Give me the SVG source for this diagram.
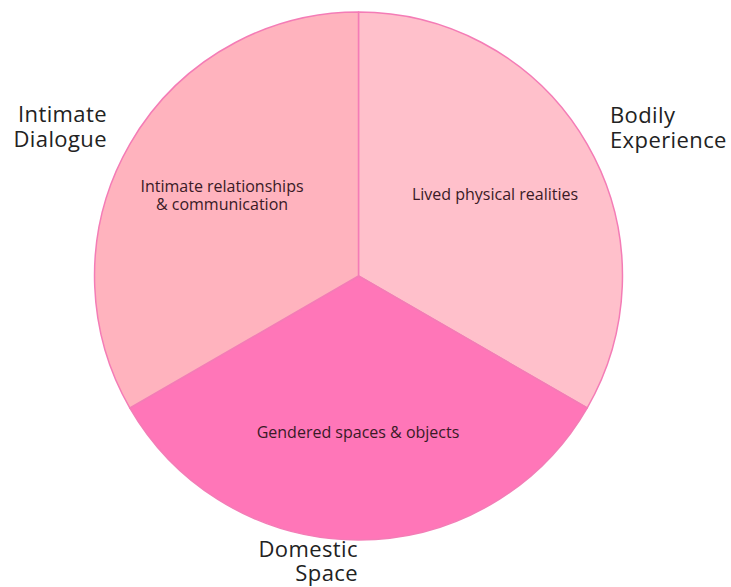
<svg xmlns="http://www.w3.org/2000/svg" width="731" height="587" viewBox="0 0 731 587">
<style>
.slice{stroke:#F47CB6;stroke-width:1.5;stroke-linejoin:round}
.outer{font-family:"Open Sans","Liberation Sans",sans-serif;font-size:22px;letter-spacing:0.4px;fill:#222}
.inner{font-family:"Open Sans","Liberation Sans",sans-serif;font-size:16px;fill:#3a1a26;text-anchor:middle}
</style>
<rect width="731" height="587" fill="#ffffff"/>
<g id="bodily-experience">
<path class="slice" d="M358.5,276 L358.5,12 A264,264 0 0 1 587.1,408 Z" fill="#FFC0CB"/>
<text class="inner" x="495" y="200">Lived physical realities</text>
<text class="outer" x="610" y="123">Bodily</text>
<text class="outer" x="610" y="148">Experience</text>
</g>
<g id="domestic-space">
<path class="slice" d="M358.5,276 L587.1,408 A264,264 0 0 1 129.9,408 Z" fill="#FF76B8" stroke="#FF76B8"/>
<text class="inner" x="358" y="438">Gendered spaces &amp; objects</text>
<text class="outer" x="358" y="557" text-anchor="end">Domestic</text>
<text class="outer" x="358" y="581" text-anchor="end">Space</text>
</g>
<g id="intimate-dialogue">
<path class="slice" d="M358.5,276 L129.9,408 A264,264 0 0 1 358.5,12 Z" fill="#FFB3BE"/>
<text class="inner" x="222" y="192">Intimate relationships</text>
<text class="inner" x="222" y="210">&amp; communication</text>
<text class="outer" x="107" y="122" text-anchor="end">Intimate</text>
<text class="outer" x="107" y="147" text-anchor="end">Dialogue</text>
</g>
<g id="connectors"></g>
</svg>
